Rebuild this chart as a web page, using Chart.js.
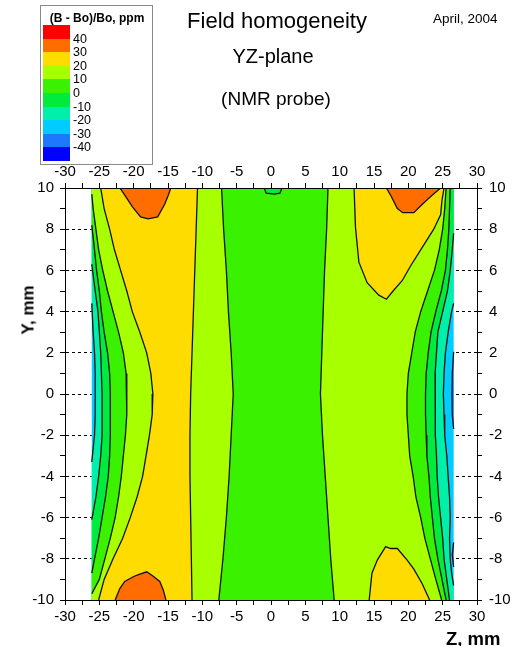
<!DOCTYPE html>
<html>
<head>
<meta charset="utf-8">
<script src="https://cdn.jsdelivr.net/npm/chart.js"></script>
<style>
  body { margin: 0; background: #fff; }
  #wrap { position: relative; width: 514px; height: 646px; font-family: 'Liberation Sans', Arial, Helvetica, sans-serif; color: #000; }
  #wrap canvas { position: absolute; left: 0; top: 0; }
  .t { position: absolute; white-space: nowrap; line-height: 1; }
  .c { transform: translateX(-50%); }
  #legend { position: absolute; left: 40px; top: 5px; width: 111px; height: 158px; border: 1px solid #8a8a8a; }
  .sw { position: absolute; left: 2px; width: 27px; }
  .lab { position: absolute; left: 32px; font-size: 12.5px; line-height: 1; transform: translateY(-50%); }
</style>
</head>
<body>
<div id="wrap">
  <canvas id="fieldChart" width="514" height="646"></canvas>
  <div id="legend">
    <div class="t c" style="left:56px;top:6px;font-size:12px;font-weight:bold;">(B - Bo)/Bo, ppm</div>
  </div>
  <div class="t c" style="left:277px;top:10px;font-size:22px;">Field homogeneity</div>
  <div class="t c" style="left:273px;top:46px;font-size:20px;">YZ-plane</div>
  <div class="t c" style="left:276px;top:89px;font-size:19px;">(NMR probe)</div>
  <div class="t" style="left:433px;top:12px;font-size:13.5px;">April, 2004</div>
  <div class="t" style="left:28px;top:310px;font-size:17px;font-weight:bold;transform:translate(-50%,-50%) rotate(-90deg);">Y, mm</div>
  <div class="t" style="left:446px;top:630px;font-size:18.5px;font-weight:bold;">Z, mm</div>
</div>
<script>
// colour scale, top to bottom, and the levels between the colours
const legendColors = ['#ff0000', '#ff6c00', '#ffdc00', '#a8ff00', '#3af200', '#00ec3c', '#00f0aa', '#00ccff', '#1e78ff', '#0000ff'];
const legendLevels = [40, 30, 20, 10, 0, -10, -20, -30, -40];

// measured region along Z (mm); Y runs from -10 to 10
const zEdgeMin = -26.1;
const zEdgeMax = 26.6;

// contour lines as [Z, Y] pairs, listed from top to bottom
const leftM20 = [[-26.1, 4.4], [-25.9, 3], [-25.7, 2], [-25.6, 1], [-25.6, 0], [-25.6, -1], [-25.7, -2], [-26.1, -3.3]];
const leftM10 = [[-26.1, 6.3], [-25.6, 5], [-25.2, 4], [-25.0, 3], [-24.8, 2], [-24.7, 1], [-24.6, 0], [-24.6, -1], [-24.6, -2], [-24.8, -3], [-25.1, -4], [-25.5, -5], [-26.1, -6.1]];
const leftZero = [[-26.1, 8.2], [-25.7, 7], [-25.4, 6], [-25.0, 5], [-24.7, 4], [-24.3, 3], [-23.8, 2], [-23.5, 1], [-23.4, 0], [-23.4, -1], [-23.4, -2], [-23.5, -3], [-23.7, -4], [-24.1, -5], [-24.6, -6], [-25.1, -7], [-25.7, -8], [-26.1, -8.7]];
const leftTen = [[-26.1, 9.7], [-25.9, 9], [-25.5, 8], [-25.1, 7], [-24.5, 6], [-23.8, 5], [-23.0, 4], [-22.2, 3], [-21.5, 2], [-21.1, 1], [-21.0, 0], [-21.0, -1], [-21.2, -2], [-21.5, -3], [-21.8, -4], [-22.2, -5], [-22.7, -6], [-23.4, -7], [-24.2, -8], [-25.0, -9], [-26.1, -9.7]];
const leftTwenty = [[-24.8, 10], [-24.3, 9], [-23.5, 8], [-22.8, 7], [-21.9, 6], [-21.0, 5], [-20.2, 4], [-19.1, 3], [-18.1, 2], [-17.5, 1], [-17.2, 0], [-17.3, -1], [-17.7, -2], [-18.2, -3], [-18.7, -4], [-19.5, -5], [-20.5, -6], [-21.6, -7], [-23.0, -8], [-24.3, -9], [-25.1, -10]];
const rightTwentyL = [[-10.7, 10], [-10.9, 8], [-11.1, 6], [-11.3, 4], [-11.5, 2], [-11.7, 0], [-11.8, -2], [-11.8, -4], [-11.7, -6], [-11.6, -8], [-11.5, -10]];
const centerLeft = [[-7.2, 10], [-6.9, 8], [-6.5, 6], [-6.2, 4], [-5.8, 2], [-5.5, 0], [-5.8, -2], [-6.1, -4], [-6.5, -6], [-7.0, -8], [-7.6, -10]];
const centerRight = [[8.3, 10], [8.1, 8], [7.8, 6], [7.6, 4], [7.4, 2], [7.2, 0], [7.5, -2], [7.9, -4], [8.3, -6], [8.7, -8], [9.2, -10]];
const centerPocket = [[-1.0, 10], [-0.7, 9.75], [0.5, 9.7], [1.3, 9.75], [1.6, 10]];
const orangeTopLeft = [[-22.0, 10], [-21.3, 9.65], [-20.2, 9.1], [-19.0, 8.6], [-17.9, 8.5], [-16.5, 8.6], [-15.5, 9.2], [-14.9, 9.7], [-14.6, 10]];
const orangeBottomLeft = [[-22.7, -10], [-22.0, -9.43], [-21.3, -9.1], [-20.0, -8.86], [-19.3, -8.77], [-18.1, -8.63], [-17.1, -8.86], [-16.2, -9.1], [-15.7, -9.5], [-15.3, -10]];
const orangeTopRight = [[16.8, 10], [17.5, 9.6], [18.4, 9.0], [19.2, 8.8], [20.8, 8.8], [22.0, 9.2], [23.3, 9.6], [24.7, 10]];
const yellowTopRight = [[12.1, 10], [12.3, 8.1], [12.8, 6.4], [14.0, 5.4], [15.7, 4.8], [16.8, 4.6], [17.9, 5.05], [19.1, 5.5], [20.3, 6.2], [21.8, 7.0], [23.7, 8.0], [24.7, 8.7], [24.9, 9.4], [25.2, 10]];
const yellowBottomRight = [[14.3, -10], [14.7, -8.7], [15.5, -8.05], [16.7, -7.41], [17.4, -7.5], [18.4, -7.5], [19.8, -8.05], [20.8, -8.5], [22.0, -9.2], [23.1, -10]];
const rightTen = [[25.5, 10], [25.3, 9], [25.0, 8], [24.5, 7], [23.8, 6], [22.8, 5], [21.8, 4], [21.0, 3], [20.5, 2], [20.0, 1], [19.8, 0], [19.8, -1], [20.0, -2], [20.2, -3], [20.7, -4], [21.1, -5], [21.8, -6], [22.4, -7], [23.2, -8], [24.0, -9], [24.85, -10]];
const rightZero = [[26.1, 10], [26.0, 9], [25.9, 8], [25.7, 7], [25.4, 6], [24.8, 5], [24.0, 4], [23.3, 3], [22.9, 2], [22.6, 1], [22.5, 0], [22.5, -1], [22.6, -2], [22.7, -3], [23.0, -4], [23.2, -5], [23.5, -6], [23.8, -7], [24.3, -8], [24.9, -9], [25.5, -10]];
const rightM10 = [[26.6, 7.8], [26.4, 7], [26.1, 6], [25.7, 5], [25.0, 4], [24.3, 3], [24.1, 2], [23.9, 1], [23.9, 0], [23.9, -1], [24.0, -2], [24.1, -3], [24.2, -4], [24.4, -5], [24.7, -6], [25.0, -7], [25.2, -8], [25.6, -9], [26.0, -10]];
const rightM20 = [[26.6, 4.4], [26.3, 4], [25.8, 3], [25.4, 2], [25.2, 1], [25.1, 0], [25.2, -1], [25.3, -2], [25.6, -3], [25.8, -4], [26.0, -5], [26.1, -6], [26.0, -7], [26.1, -8], [26.3, -8.7], [26.6, -9.3]];
const bluePocketTop = [[26.6, 2.05], [26.4, 1], [26.35, 0], [26.4, -1], [26.6, -1.7]];
const bluePocketLow = [[26.6, -7.2], [26.4, -7.8], [26.6, -8.4]];

// axis ticks
const zTicks = { min: -30, max: 30, step: 2.5, labelEvery: 5 };
const yTicks = { min: -10, max: 10, step: 1, labelEvery: 2 };

const band = {
    red: legendColors[0], orange: legendColors[1], yellow: legendColors[2], lime: legendColors[3],
    green: legendColors[4], dkgreen: legendColors[5], teal: legendColors[6], cyan: legendColors[7], blue: legendColors[8]
};

// legend
const legend = document.getElementById('legend');
const swH = 13.6;
legendColors.forEach((c, i) => {
    const d = document.createElement('div');
    d.className = 'sw';
    d.style.top = (19 + i * swH) + 'px';
    d.style.height = (swH + 0.5) + 'px';
    d.style.background = c;
    legend.appendChild(d);
});
legendLevels.forEach((v, i) => {
    const d = document.createElement('div');
    d.className = 'lab';
    d.style.top = (19 + (i + 1) * swH) + 'px';
    d.textContent = v;
    legend.appendChild(d);
});

// region from a left and a right contour, closed along the edges
function withEdges(curve, zEdge) {
    const pts = curve.slice();
    if (pts[0][1] < 10) pts.unshift([zEdge, 10]);
    if (pts[pts.length - 1][1] > -10) pts.push([zEdge, -10]);
    return pts;
}
function between(left, right) {
    return withEdges(left, zEdgeMin).concat(withEdges(right, zEdgeMax).reverse());
}

// painted from back to front
const fills = [
    [[[zEdgeMin, 10], [zEdgeMax, 10], [zEdgeMax, -10], [zEdgeMin, -10]], band.cyan],
    [between(leftM20, rightM20), band.teal],
    [between(leftM10, rightM10), band.dkgreen],
    [between(leftZero, rightZero), band.green],
    [between(leftTen, rightTen), band.lime],
    [centerLeft.concat(centerRight.slice().reverse()), band.green],
    [centerPocket, band.dkgreen],
    [leftTwenty.concat(rightTwentyL.slice().reverse()), band.yellow],
    [yellowTopRight, band.yellow],
    [yellowBottomRight, band.yellow],
    [orangeTopLeft, band.orange],
    [orangeBottomLeft, band.orange],
    [orangeTopRight, band.orange],
    [bluePocketTop, band.blue],
    [bluePocketLow, band.blue]
];

const contours = [leftM20, leftM10, leftZero, leftTen, leftTwenty, rightTwentyL, centerLeft, centerRight, centerPocket,
    orangeTopLeft, orangeBottomLeft, orangeTopRight, yellowTopRight, yellowBottomRight,
    rightTen, rightZero, rightM10, rightM20, bluePocketTop, bluePocketLow];

const toXY = pts => pts.map(p => ({ x: p[0], y: p[1] }));

const datasets = fills.map((f, i) => ({
    data: toXY(f[0]),
    showLine: true,
    fill: 'shape',
    backgroundColor: f[1],
    borderColor: 'transparent',
    borderWidth: 0,
    pointRadius: 0,
    order: 100 - i
})).concat(contours.map(c => ({
    data: toXY(c),
    showLine: true,
    fill: false,
    borderColor: '#111',
    borderWidth: 1.3,
    pointRadius: 0,
    order: 0
})));

const tickFont = { family: "'Liberation Sans', Arial, Helvetica, sans-serif", size: 15 };

function zAxis(position, height, pad) {
    return {
        type: 'linear', position: position, min: zTicks.min, max: zTicks.max,
        ticks: {
            stepSize: zTicks.step, autoSkip: false, maxRotation: 0, padding: pad, color: '#000', font: tickFont,
            callback: v => (v % zTicks.labelEvery === 0 ? v : '')
        },
        grid: { drawOnChartArea: false, tickLength: 5, tickColor: '#000', tickBorderDash: [] },
        border: { color: '#000', width: 1, z: 1 },
        afterFit: s => { s.height = height; }
    };
}
function yAxis(position, width, pad, gridOn) {
    return {
        type: 'linear', position: position, min: yTicks.min, max: yTicks.max,
        ticks: {
            stepSize: yTicks.step, autoSkip: false, padding: pad, color: '#000', font: tickFont,
            callback: v => (v % yTicks.labelEvery === 0 ? v : '')
        },
        grid: {
            drawOnChartArea: gridOn,
            color: c => (Math.abs(c.tick.value) % yTicks.labelEvery === 0 ? '#000' : 'rgba(0,0,0,0)'),
            lineWidth: 1,
            tickLength: 5, tickColor: '#000', tickBorderDash: []
        },
        border: { color: '#000', width: 1, z: 1, dash: [3, 3] },
        afterFit: s => { s.width = width; }
    };
}

const ctx = document.getElementById('fieldChart').getContext('2d');
const fieldChart = new Chart(ctx, {
    type: 'scatter',
    data: { datasets: datasets },
    options: {
        responsive: false,
        animation: false,
        devicePixelRatio: 1,
        layout: { padding: 0 },
        plugins: { legend: { display: false }, tooltip: { enabled: false } },
        scales: {
            x: zAxis('bottom', 46, 3),
            x2: zAxis('top', 188, 2),
            y: yAxis('left', 65, 6, true),
            y2: yAxis('right', 37, 7, false)
        }
    }
});
</script>
</body>
</html>
